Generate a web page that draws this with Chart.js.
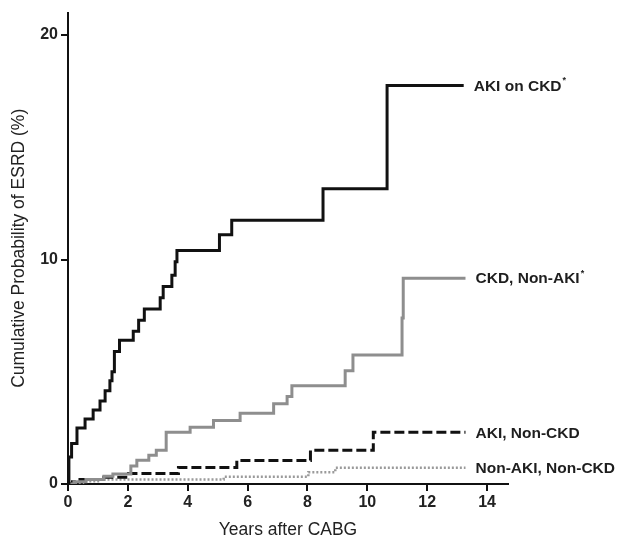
<!DOCTYPE html>
<html>
<head>
<meta charset="utf-8">
<script src="https://cdn.jsdelivr.net/npm/chart.js@4"></script>
<style>
  html, body { margin: 0; padding: 0; background: #fff; }
  #wrap { width: 620px; height: 541px; }
</style>
</head>
<body>
<div id="wrap"><canvas id="esrdChart" width="620" height="541"></canvas></div>
<script>
// Kaplan-Meier style step data (years, cumulative %)
const akiCkdYears = [0, 0.03, 0.12, 0.3, 0.57, 0.84, 1.07, 1.24, 1.4, 1.47, 1.55, 1.72, 2.18, 2.36, 2.55, 3.08, 3.18, 3.47, 3.58, 3.64, 5.06, 5.47, 8.52, 10.66, 13.22];
const akiCkdRisk  = [0, 1.2, 1.8, 2.5, 2.9, 3.3, 3.7, 4.15, 4.6, 5.0, 5.9, 6.4, 6.8, 7.3, 7.8, 8.3, 8.8, 9.3, 9.9, 10.4, 11.1, 11.75, 13.15, 17.75, 17.75];

const ckdYears = [0, 0.2, 0.6, 1.2, 1.5, 2.1, 2.3, 2.7, 2.95, 3.28, 4.08, 4.86, 5.75, 6.87, 7.32, 7.48, 9.26, 9.52, 11.16, 11.2, 13.28];
const ckdRisk  = [0, 0.1, 0.2, 0.35, 0.45, 0.8, 1.06, 1.28, 1.5, 2.31, 2.53, 2.83, 3.15, 3.57, 3.9, 4.38, 5.04, 5.75, 7.4, 9.17, 9.17];

const akiYears = [0, 0.15, 0.4, 1.2, 2.02, 3.69, 5.64, 8.1, 10.2, 13.28];
const akiRisk  = [0, 0.1, 0.2, 0.3, 0.47, 0.74, 1.05, 1.5, 2.3, 2.3];

const noneYears = [0, 0.1, 0.5, 1.0, 5.2, 8.03, 8.93, 13.28];
const noneRisk  = [0, 0.05, 0.12, 0.2, 0.32, 0.52, 0.72, 0.72];

const seriesNames = ['AKI on CKD', 'CKD, Non-AKI', 'AKI, Non-CKD', 'Non-AKI, Non-CKD'];
const seriesStars = [true, true, false, false];

const xTicks = [0, 2, 4, 6, 8, 10, 12, 14];
const yTicks = [0, 10, 20];

function toPoints(xs, ys) {
    return xs.map((x, i) => ({ x: x, y: ys[i] }));
}

const FONT = "'Liberation Sans', Arial, Helvetica, sans-serif";

// end-of-line labels, placed from the last data point of each series
const endLabels = {
    id: 'endLabels',
    afterDatasetsDraw(chart) {
        const ctx = chart.ctx;
        const xs = chart.scales.x, ys = chart.scales.y;
        ctx.save();
        ctx.fillStyle = '#1e1e1e';
        ctx.textBaseline = 'middle';
        ctx.textAlign = 'left';
        chart.data.datasets.forEach((ds, i) => {
            const last = ds.data[ds.data.length - 1];
            const px = xs.getPixelForValue(last.x) + 10;
            const py = ys.getPixelForValue(last.y) + 1;
            ctx.font = 'bold 15.5px ' + FONT;
            ctx.fillText(seriesNames[i], px, py);
            if (seriesStars[i]) {
                const w = ctx.measureText(seriesNames[i]).width;
                ctx.font = 'bold 9px ' + FONT;
                ctx.fillText('*', px + w + 1, py - 6);
            }
        });
        ctx.restore();
    }
};

new Chart(document.getElementById('esrdChart'), {
    type: 'line',
    data: {
        datasets: [{
            label: seriesNames[0],
            data: toPoints(akiCkdYears, akiCkdRisk),
            borderColor: '#111',
            borderWidth: 3
        }, {
            label: seriesNames[1],
            data: toPoints(ckdYears, ckdRisk),
            borderColor: '#8e8e8e',
            borderWidth: 3
        }, {
            label: seriesNames[2],
            data: toPoints(akiYears, akiRisk),
            borderColor: '#111',
            borderWidth: 3,
            borderDash: [10, 4]
        }, {
            label: seriesNames[3],
            data: toPoints(noneYears, noneRisk),
            borderColor: '#9a9a9a',
            borderWidth: 2.5,
            borderDash: [2, 2]
        }]
    },
    options: {
        responsive: false,
        animation: false,
        layout: { padding: { top: 9, right: 112, left: 0, bottom: 0 } },
        elements: {
            line: { stepped: 'before', fill: false, borderCapStyle: 'butt', borderJoinStyle: 'miter' },
            point: { radius: 0 }
        },
        plugins: {
            legend: { display: false },
            tooltip: { enabled: false }
        },
        scales: {
            x: {
                type: 'linear',
                min: 0,
                max: 14.7,
                afterBuildTicks: axis => { axis.ticks = xTicks.map(v => ({ value: v })); },
                afterFit: axis => { axis.height = 57; },
                border: { display: true, color: '#111', width: 2 },
                grid: { display: true, drawOnChartArea: false, drawTicks: true, tickLength: 7, color: '#111', lineWidth: 2 },
                ticks: { color: '#222', padding: 2, font: { family: FONT, size: 16, weight: 'bold' }, maxRotation: 0 },
                title: { display: true, text: 'Years after CABG', color: '#222', padding: { top: 3, bottom: 0 }, font: { family: FONT, size: 17.5 } }
            },
            y: {
                type: 'linear',
                min: 0,
                max: 21,
                afterBuildTicks: axis => { axis.ticks = yTicks.map(v => ({ value: v })); },
                afterFit: axis => { axis.width = 68; },
                border: { display: true, color: '#111', width: 2 },
                grid: { display: true, drawOnChartArea: false, drawTicks: true, tickLength: 7, color: '#111', lineWidth: 2 },
                ticks: { color: '#222', padding: 3, font: { family: FONT, size: 16, weight: 'bold' } },
                title: { display: true, text: 'Cumulative Probability of ESRD (%)', color: '#222', padding: { top: 9, bottom: 0 }, font: { family: FONT, size: 17.5 } }
            }
        }
    },
    plugins: [endLabels]
});
</script>
</body>
</html>
